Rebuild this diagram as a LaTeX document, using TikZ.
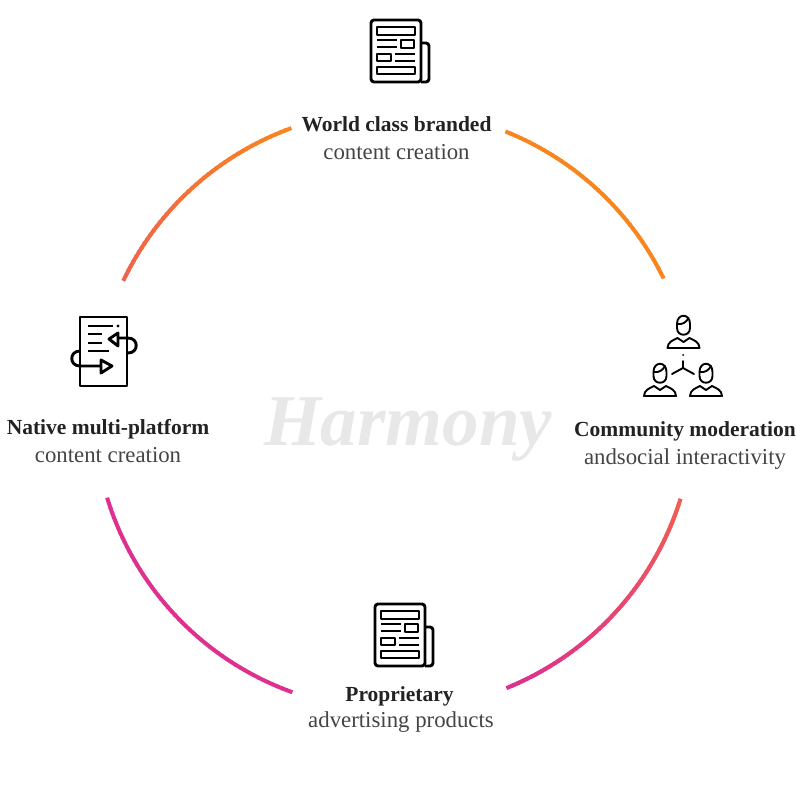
\documentclass[tikz,border=0pt]{standalone}
\usepackage{fontspec}
\setmainfont{Liberation Serif}
\usetikzlibrary{positioning,calc}
\definecolor{Ink}{HTML}{222222}
\definecolor{Soft}{HTML}{444444}
\definecolor{Mark}{HTML}{E8E8E8}
\definecolor{Tang}{HTML}{F7861F}
\definecolor{Rose}{HTML}{F0604F}
\definecolor{Pink}{HTML}{DE308F}
\begin{document}
\begin{tikzpicture}[x=1pt,y=-1pt,
 head/.style={font=\fontsize{21.5}{24}\selectfont\bfseries,text=Ink,inner sep=0pt,anchor=base},
 subtext/.style={font=\fontsize{22.8}{24}\selectfont,text=Soft,inner sep=0pt,anchor=base},
 ring arc/.style={line width=4pt},
 icon/.style={draw=black,line width=2.9pt,line join=round},
 thin icon/.style={draw=black,line width=1.9pt,line join=round,line cap=round},
 news/.pic={
   \draw[icon,rounded corners=3pt] (0,0) rectangle (50,62);
   \draw[icon,rounded corners=3pt] (50,23) -- (58,23) -- (58,62) -- (50,62);
   \draw[icon] (6,7) rectangle (44,15);
   \draw[icon] (6,20) -- (26,20) (6,27) -- (26,27);
   \draw[icon] (30,20) rectangle (43,28);
   \draw[icon] (6,34) rectangle (20,41);
   \draw[icon] (24,34) -- (44,34) (24,41) -- (44,41);
   \draw[icon] (6,47) rectangle (44,54);
 },
 person/.pic={
   \draw[thin icon] (-6.5,-24) .. controls (-6.5,-35) and (6.5,-35) .. (6.5,-24)
     -- (6.5,-20) .. controls (6.5,-11) and (-6.5,-11) .. (-6.5,-20) -- cycle;
   \draw[thin icon] (-6.5,-24) .. controls (-1,-23) and (3,-26) .. (5,-30);
   \draw[thin icon] (-16,0) .. controls (-16,-6) and (-10,-8) .. (-6,-10)
     -- (0,-6) -- (6,-10) .. controls (10,-8) and (16,-6) .. (16,0) -- cycle;
 }]
\useasboundingbox (0,0) rectangle (796,789);
\coordinate (ring) at (394,410);
% arcs, stepped so the colour can run along them
\foreach \a in {207,...,250}{
  \pgfmathsetmacro{\mix}{min(100,(\a-205)*2.2)}
  \draw[ring arc,color=Tang!\mix!Rose] ($(ring)+(\a-1.5:300)$) -- ($(ring)+(\a:300)$);
}
\foreach \a in {293,...,334}
  \draw[ring arc,color=Tang] ($(ring)+(\a-1.2:300)$) -- ($(ring)+(\a:300)$);
\foreach \a in {19,...,68}{
  \pgfmathsetmacro{\mix}{min(100,(\a-17)*2)}
  \draw[ring arc,color=Pink!\mix!Rose] ($(ring)+(\a-1.8:300)$) -- ($(ring)+(\a:300)$);
}
\foreach \a in {111,...,163}
  \draw[ring arc,color=Pink] ($(ring)+(\a-1.2:300)$) -- ($(ring)+(\a:300)$);
\node[font=\fontsize{73}{73}\selectfont\bfseries\itshape,text=Mark,inner sep=0pt,anchor=base] (brand) at (408,445) {Harmony};
\pic at (371,20) {news};
\node[head] (toptitle) at (396.5,132) {World class branded};
\node[subtext] (topsub) at (396.5,160) {content creation};
\pic at (375,604) {news};
\node[head] (lowtitle) at (399.5,701) {Proprietary};
\node[subtext] (lowsub) at (401,727) {advertising products};
\node[head] (lefttitle) at (108,434) {Native multi-platform};
\node[subtext] (leftsub) at (108,462) {content creation};
\node[head] (righttitle) at (685,436) {Community moderation};
\node[subtext] (rightsub) at (685,464) {andsocial interactivity};
% loop icon
\draw[icon] (80,317) rectangle (127,386);
\draw[icon] (88,326) -- (113,326) (88,334) -- (102,334) (88,343) -- (102,343) (88,351) -- (109,351);
\fill (118,326) circle (1.6);
\draw[icon] (109,339) -- (118,333) -- (118,346) -- cycle;
\draw[icon] (118,338) -- (128,338) .. controls (139,338) and (139,353) .. (128,353);
\draw[icon] (112,366) -- (101,360) -- (101,373) -- cycle;
\draw[icon] (101,366) -- (80,366) .. controls (69,366) and (69,351) .. (80,351);
% people icon
\pic at (683.5,348) {person};
\pic at (660,396) {person};
\pic at (706,396) {person};
\draw[thin icon] (683,361) -- (683,368) (672,374) -- (683,368) -- (694,374);
\fill (683,355) circle (1);
\end{tikzpicture}
\end{document}
